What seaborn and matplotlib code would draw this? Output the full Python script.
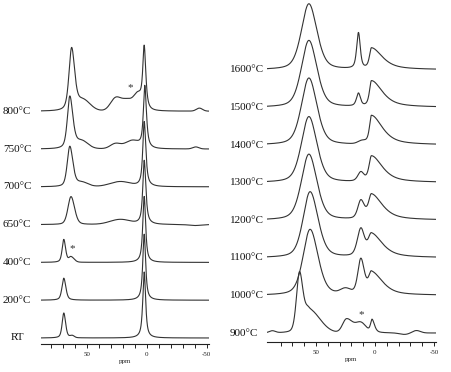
import numpy as np
import pandas as pd
import seaborn as sns
import matplotlib.pyplot as plt

# ---------------------------------------
# 1. Spectra
#    each peak: (ppm, height, hwhm left, hwhm right, lorentz fraction)
# ---------------------------------------
left_labels = ["RT", "200°C", "400°C", "650°C", "700°C", "750°C", "800°C"]
right_labels = ["900°C", "1000°C", "1100°C", "1200°C", "1300°C",
                "1400°C", "1500°C", "1600°C"]

rt_peaks = [(69, 25, 1.6, 1.8, 0.5), (62, 2, 2, 2, 0), (2, 66, 1.4, 1.4, 0.8)]
c200_peaks = [(69, 22, 1.8, 2.0, 0.5), (2, 66, 1.4, 1.4, 0.8)]
c400_peaks = [(69, 23, 1.6, 1.8, 0.5), (63, 5, 2, 3, 0), (2, 66, 1.4, 1.4, 0.8)]
c650_peaks = [(63, 28, 3, 3.5, 0.3), (22, 5, 10, 10, 0), (2, 64, 1.4, 1.6, 0.8),
              (-40, -1, 6, 6, 0)]
c700_peaks = [(64, 40, 2.5, 3, 0.4), (54, 4, 6, 6, 0), (22, 5, 10, 10, 0),
              (2, 65, 1.4, 1.6, 0.8)]
c750_peaks = [(64, 52, 2.4, 3, 0.5), (54, 7, 6, 6, 0), (26, 5, 5, 5, 0),
              (12, 8, 7, 7, 0), (1.5, 62, 1.4, 1.6, 0.8), (-41, 2, 3, 3, 0)]
c800_peaks = [(62.5, 62, 2.6, 3, 0.5), (53, 10, 6, 7, 0), (26, 12, 5, 5, 0),
              (16, 11, 6, 6, 0), (7, 14, 4, 4, 0), (2, 61, 1.4, 1.6, 0.8),
              (-44, 3, 3, 3, 0)]

c900_peaks = [(87, 2, 3, 3, 0), (64, 60, 3, 3.5, 0.3), (56, 22, 4, 11, 0),
              (24, 14, 4, 6, 0), (12, 10, 5, 5, 0), (2.5, 13, 1.5, 2.5, 0.6),
              (-25, -1.5, 5, 5, 0), (-35, 2.5, 4, 4, 0)]
c1000_peaks = [(55, 66, 7, 8, 0.4), (25, 5, 5, 5, 0), (12, 35, 3, 3.5, 0.4),
               (3, 22, 3, 11, 0.6)]
c1100_peaks = [(55, 66, 7, 8, 0.4), (12, 27, 3.5, 3.5, 0.4), (3, 23, 3.5, 11, 0.7)]
c1200_peaks = [(56, 66, 7.5, 8, 0.4), (12, 18, 3, 3.5, 0.4), (3, 25, 3, 11, 0.7)]
c1300_peaks = [(56, 66, 7.5, 8, 0.4), (12, 9, 3, 3, 0.4), (3, 26, 2.5, 11, 0.7)]
c1400_peaks = [(56, 67, 7.5, 8, 0.4), (11, 3, 4, 4, 0), (3, 29, 2, 11, 0.7)]
c1500_peaks = [(56, 67, 7.5, 8, 0.4), (14, 13, 2, 2, 0.6), (3, 26, 2, 11, 0.7)]
c1600_peaks = [(56, 66, 7.5, 8, 0.4), (14, 36, 1.8, 1.8, 0.6), (3, 21, 2, 11, 0.7)]

left_spectra = [rt_peaks, c200_peaks, c400_peaks, c650_peaks, c700_peaks,
                c750_peaks, c800_peaks]
right_spectra = [c900_peaks, c1000_peaks, c1100_peaks, c1200_peaks,
                 c1300_peaks, c1400_peaks, c1500_peaks, c1600_peaks]

# asterisk marks: (ppm, height above axis)
left_star = [(62, 95), (14, 256)]
right_star = [(12, 27)]


def spectrum(x, peaks):
    y = np.zeros_like(x)
    for c, h, wl, wr, eta in peaks:
        w = np.where(x > c, wl, wr)
        d = (x - c) / w
        y += h * (eta / (1 + d ** 2) + (1 - eta) * np.exp(-np.log(2) * d ** 2))
    return y


# ---------------------------------------
# 2. Figure
# ---------------------------------------
sns.set_theme(style="white")
plt.rcParams["font.family"] = ["Liberation Serif", "DejaVu Serif"]

W, H = 451, 372
fig = plt.figure(figsize=(W / 100, H / 100), dpi=100)

panels = [
    dict(x0=41, x1=209, spine=344, lim=(88, -52), base=6, step=37.8,
         spectra=left_spectra, labels=left_labels, stars=left_star,
         lab_x=17, ha="center"),
    dict(x0=267, x1=436, spine=342, lim=(91.5, -51.7), base=9, step=37.6,
         spectra=right_spectra, labels=right_labels, stars=right_star,
         lab_x=230, ha="left"),
]

for p in panels:
    ax = fig.add_axes([p["x0"] / W, (H - p["spine"]) / H,
                       (p["x1"] - p["x0"]) / W, p["spine"] / H])
    x = np.linspace(p["lim"][0], p["lim"][1], 1500)
    rows = []
    for i, (peaks, lab) in enumerate(zip(p["spectra"], p["labels"])):
        off = p["base"] + i * p["step"]
        rows.append(pd.DataFrame({"ppm": x, "y": spectrum(x, peaks) + off,
                                  "sample": lab}))
        fig.text(p["lab_x"] / W, (H - p["spine"] + off) / H, lab,
                 ha=p["ha"], va="center", fontsize=8, color="#111111")
    df = pd.concat(rows)
    sns.lineplot(data=df, x="ppm", y="y", units="sample", estimator=None,
                 sort=False, color="#333333", linewidth=0.8, ax=ax)
    for sx, sy in p["stars"]:
        ax.text(sx, sy, "*", ha="center", va="center", fontsize=8,
                color="#333333")

    ax.set_xlim(p["lim"])
    ax.set_ylim(0, p["spine"])
    ax.set_yticks([])
    ax.set_ylabel("")
    ax.set_xticks([50, 0, -50])
    ax.set_xticklabels(["50", "0", "-50"])
    ax.set_xticks(np.arange(80, -51, -10), minor=True)
    ax.tick_params(axis="x", which="both", direction="out", bottom=True,
                   length=3, width=0.7, labelsize=5, pad=3, colors="#222222")
    ax.set_xlabel("ppm", fontsize=5, labelpad=1)
    for s in ["top", "left", "right"]:
        ax.spines[s].set_visible(False)
    ax.spines["bottom"].set_color("#222222")
    ax.spines["bottom"].set_linewidth(0.8)
    ax.patch.set_alpha(0)

fig.savefig("out.png", dpi=100)
